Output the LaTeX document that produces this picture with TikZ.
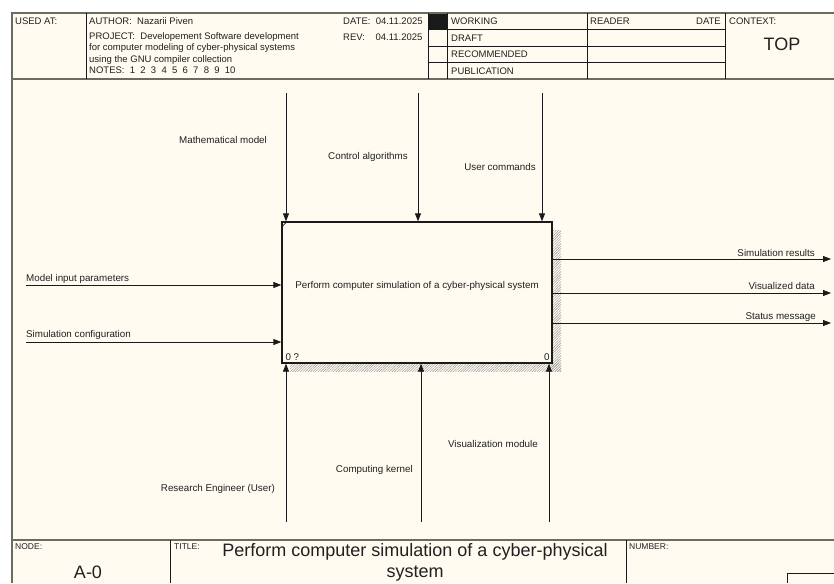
\documentclass[tikz,border=0pt]{standalone}
\usepackage{fontspec}
\setmainfont{Liberation Sans}
\usetikzlibrary{arrows.meta,patterns.meta}
\definecolor{cream}{HTML}{FFFBF0}
\definecolor{frameg}{HTML}{6B6B60}
\definecolor{ink}{HTML}{1A1A1A}
\definecolor{txt}{HTML}{202020}
\begin{document}
\begin{tikzpicture}[x=1pt,y=-1pt,
  lbl/.style={font=\fontsize{9.8}{11}\selectfont,text=txt,inner sep=0pt},
  hdr/.style={font=\fontsize{9.5}{11}\selectfont,text=txt,inner sep=0pt,anchor=west},
  small/.style={font=\fontsize{8.5}{9}\selectfont,text=txt,inner sep=0pt,anchor=north west},
  big/.style={font=\fontsize{18}{21}\selectfont,text=txt,inner sep=0pt},
  arr/.style={draw=ink,line width=0.8pt,-{Triangle[length=8pt,width=6pt]}},
  thin/.style={draw=ink,line width=0.7pt},
  fr/.style={draw=frameg,line width=1.4pt},
  hatch/.style={pattern={Lines[angle=45,distance=1.8pt,line width=0.45pt]},pattern color=gray!80}
]
\useasboundingbox (0,0) rectangle (834,583);
\fill[white] (0,0) rectangle (834,583);
\fill[cream] (12,13) rectangle (834,583);
% header
\fill[ink] (428,13) rectangle (447,29);
\draw[fr] (12,13) -- (834,13);
\draw[fr] (12,79) -- (834,79);
\draw[fr] (12,540) -- (834,540);
\draw[fr] (12,12) -- (12,583);
\draw[thin] (86,13) -- (86,79);
\draw[thin] (428,13) -- (428,79);
\draw[thin] (447,13) -- (447,79);
\draw[thin] (587,13) -- (587,79);
\draw[thin] (725,13) -- (725,79);
\draw[thin] (428,29) -- (725,29);
\draw[thin] (428,46) -- (725,46);
\draw[thin] (428,62) -- (725,62);
\node[hdr] (usedat) at (15,21) {USED AT:};
\node[hdr] (author) at (89,21) {AUTHOR:\ \ Nazarii Piven};
\node[hdr] (proj1) at (89,37) {PROJECT:\ \ Developement Software development};
\node[hdr] (proj2) at (89,48.5) {for computer modeling of cyber-physical systems};
\node[hdr] (proj3) at (89,60) {using the GNU compiler collection};
\node[hdr] (notes) at (89,70) {NOTES:\ \ 1\ \ 2\ \ 3\ \ 4\ \ 5\ \ 6\ \ 7\ \ 8\ \ 9\ \ 10};
\node[hdr] (date) at (343,21) {DATE:\ \ 04.11.2025};
\node[hdr] (rev) at (343,37) {REV:\ \ \ \ 04.11.2025};
\node[hdr] (working) at (451,21) {WORKING};
\node[hdr] (draft) at (451,38) {DRAFT};
\node[hdr] (recom) at (451,54) {RECOMMENDED};
\node[hdr] (publ) at (451,71) {PUBLICATION};
\node[hdr] (reader) at (590,21) {READER};
\node[hdr,anchor=east] (rdate) at (721,21) {DATE};
\node[hdr] (context) at (729,21) {CONTEXT:};
\node[big] (top) at (782,44) {TOP};
% footer
\draw[thin] (170,540) -- (170,583);
\draw[thin] (626,540) -- (626,583);
\draw[thin] (787,583) -- (787,573) -- (834,573);
\node[small] (nodel) at (15,543) {NODE:};
\node[small] (titlel) at (174,543) {TITLE:};
\node[small] (numl) at (629,543) {NUMBER:};
\node[big] (nodeno) at (88,572) {A-0};
\node[big,align=center] (title) at (415,562) {Perform computer simulation of a cyber-physical\\[0pt]system};
% shadow hatch
\fill[hatch] (552,230) rectangle (561,371);
\fill[hatch] (290,363) rectangle (561,371);
% function box
\node[draw=ink,line width=1.3pt,fill=cream,minimum width=270pt,minimum height=141pt,inner sep=0pt] (fn) at (417,292.5) {};
\node[lbl] (fntext) at (417,286) {Perform computer simulation of a cyber-physical system};
\draw[thin] ([yshift=-6pt]fn.north west) -- ([xshift=6pt]fn.north west);
\node[lbl,anchor=south west] (n0) at ([xshift=4pt,yshift=3pt]fn.south west) {0 ?};
\node[lbl,anchor=south east] (n1) at ([xshift=-3pt,yshift=3pt]fn.south east) {0};
% controls
\coordinate (c1) at (286,93);
\coordinate (c2) at (418,93);
\coordinate (c3) at (542,93);
\draw[arr] (c1) -- (c1 |- fn.north);
\draw[arr] (c2) -- (c2 |- fn.north);
\draw[arr] (c3) -- (c3 |- fn.north);
\node[lbl] (lc1) at (223,140) {Mathematical model};
\node[lbl] (lc2) at (368,157) {Control algorithms};
\node[lbl] (lc3) at (500,167) {User commands};
% inputs
\coordinate (i1) at (26,285);
\coordinate (i2) at (26,342);
\draw[arr] (i1) -- (i1 -| fn.west);
\draw[arr] (i2) -- (i2 -| fn.west);
\node[lbl,anchor=west] (li1) at (26,279) {Model input parameters};
\node[lbl,anchor=west] (li2) at (26,335) {Simulation configuration};
% outputs
\coordinate (o1) at (831,259);
\coordinate (o2) at (831,293);
\coordinate (o3) at (831,323);
\draw[arr] (o1 -| fn.east) -- (o1);
\draw[arr] (o2 -| fn.east) -- (o2);
\draw[arr] (o3 -| fn.east) -- (o3);
\node[lbl,anchor=east] (lo1) at (815,253) {Simulation results};
\node[lbl,anchor=east] (lo2) at (815,286) {Visualized data};
\node[lbl,anchor=east] (lo3) at (816,317) {Status message};
% mechanisms
\coordinate (m1) at (286,522);
\coordinate (m2) at (421,522);
\coordinate (m3) at (549,522);
\draw[arr] (m1) -- (m1 |- fn.south);
\draw[arr] (m2) -- (m2 |- fn.south);
\draw[arr] (m3) -- (m3 |- fn.south);
\node[lbl,anchor=east] (lm1) at (275,489) {Research Engineer (User)};
\node[lbl,anchor=east] (lm2) at (413,470) {Computing kernel};
\node[lbl,anchor=east] (lm3) at (538,444) {Visualization module};
\end{tikzpicture}
\end{document}
